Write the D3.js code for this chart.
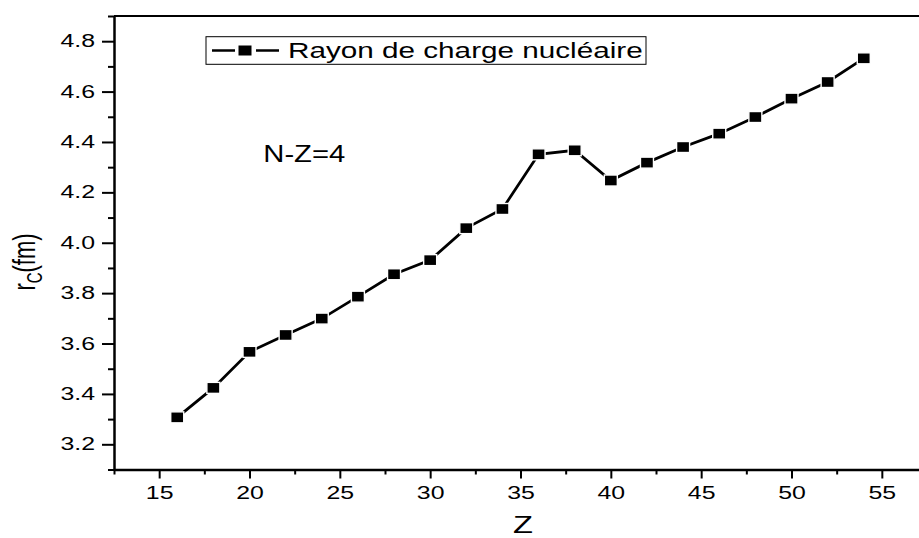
<!DOCTYPE html>
<html>
<head>
<meta charset="utf-8">
<script src="https://cdn.jsdelivr.net/npm/d3@7"></script>
<style>
  body { margin: 0; background: #fff; }
  svg { display: block; font-family: "Liberation Sans", Arial, sans-serif; }
</style>
</head>
<body>
<div id="chart"></div>
<script>
// Data
const zValues = [16, 18, 20, 22, 24, 26, 28, 30, 32, 34, 36, 38, 40, 42, 44, 46, 48, 50, 52, 54];
const rcValues = [3.307, 3.424, 3.567, 3.634, 3.699, 3.786, 3.875, 3.931, 4.058, 4.134,
                  4.351, 4.367, 4.247, 4.318, 4.380, 4.433, 4.499, 4.572, 4.638, 4.732];
const xMajorTicks = [15, 20, 25, 30, 35, 40, 45, 50, 55];
const xMinorTicks = [12.5, 17.5, 22.5, 27.5, 32.5, 37.5, 42.5, 47.5, 52.5];
const yMajorTicks = [3.2, 3.4, 3.6, 3.8, 4.0, 4.2, 4.4, 4.6, 4.8];
const yMinorTicks = [3.1, 3.3, 3.5, 3.7, 3.9, 4.1, 4.3, 4.5, 4.7, 4.9];
const seriesName = 'Rayon de charge nucléaire';
const annotation = 'N-Z=4';

const svgWidth = 919;
const svgHeight = 538;
const stretch = 1.42; // the original picture is stretched sideways

const svg = d3.select('#chart')
    .append('svg')
    .attr('width', svgWidth)
    .attr('height', svgHeight);

// Scales
const x = d3.scaleLinear().domain([12.5, 57.5]).range([114, 927]);
const y = d3.scaleLinear().domain([3.1, 4.9]).range([469.5, 16]);

// widen glyphs of a text selection to match the stretched original
function widen(sel, k) {
    sel.each(function () {
        const w = this.getComputedTextLength();
        d3.select(this).attr('textLength', w * k).attr('lengthAdjust', 'spacingAndGlyphs');
    });
}

// Top frame line
svg.append('line')
    .attr('x1', x(12.5)).attr('x2', x(57.5))
    .attr('y1', y(4.9)).attr('y2', y(4.9))
    .attr('stroke', '#000')
    .attr('stroke-width', 2);

// Minor ticks
svg.append('g')
    .attr('transform', `translate(0,${y(3.1)})`)
    .call(d3.axisBottom(x).tickValues(xMinorTicks).tickSize(5).tickFormat(''))
    .call(g => g.select('.domain').remove())
    .selectAll('line').attr('stroke-width', 2);

svg.append('g')
    .attr('transform', `translate(${x(12.5)},0)`)
    .call(d3.axisLeft(y).tickValues(yMinorTicks).tickSize(6).tickFormat(''))
    .call(g => g.select('.domain').remove())
    .selectAll('line').attr('stroke-width', 2);

// Major axes
const xAxis = svg.append('g')
    .attr('transform', `translate(0,${y(3.1)})`)
    .call(d3.axisBottom(x).tickValues(xMajorTicks).tickSize(9).tickSizeOuter(0).tickPadding(8).tickFormat(d3.format('d')));
xAxis.select('.domain').attr('stroke-width', 2.5);
xAxis.selectAll('line').attr('stroke-width', 2);
xAxis.selectAll('text')
    .style('font-size', '17.5px')
    .style('font-family', '"Liberation Sans", Arial, sans-serif')
    .attr('fill', '#000')
    .call(widen, stretch);

const yAxis = svg.append('g')
    .attr('transform', `translate(${x(12.5)},0)`)
    .call(d3.axisLeft(y).tickValues(yMajorTicks).tickSize(12).tickSizeOuter(0).tickPadding(7).tickFormat(d3.format('.1f')));
yAxis.select('.domain').attr('stroke-width', 2.5);
yAxis.selectAll('line').attr('stroke-width', 2);
yAxis.selectAll('text')
    .style('font-size', '17.5px')
    .style('font-family', '"Liberation Sans", Arial, sans-serif')
    .attr('fill', '#000')
    .call(widen, stretch);

// Axis labels
svg.append('text')
    .attr('x', 523)
    .attr('y', 533)
    .attr('text-anchor', 'middle')
    .style('font-size', '23px')
    .text('Z')
    .call(widen, stretch);

const yLabel = svg.append('text')
    .attr('transform', `translate(35,262) scale(${stretch},1) rotate(-90)`)
    .attr('text-anchor', 'middle')
    .style('font-size', '22px');
yLabel.append('tspan').text('r');
yLabel.append('tspan').attr('dy', 5).style('font-size', '15px').text('C');
yLabel.append('tspan').attr('dy', -5).text('(fm)');

// Series
const points = zValues.map((z, i) => ({ z: z, r: rcValues[i] }));

svg.append('path')
    .datum(points)
    .attr('fill', 'none')
    .attr('stroke', '#000')
    .attr('stroke-width', 2.8)
    .attr('d', d3.line().x(d => x(d.z)).y(d => y(d.r)));

svg.selectAll('rect.marker')
    .data(points)
    .enter()
    .append('rect')
    .attr('class', 'marker')
    .attr('x', d => x(d.z) - 6.5)
    .attr('y', d => y(d.r) - 5.5)
    .attr('width', 13)
    .attr('height', 11)
    .attr('fill', '#000')
    .attr('stroke', '#fff')
    .attr('stroke-width', 1.4);

// Legend
const legend = svg.append('g');
legend.append('rect')
    .attr('x', 206).attr('y', 36.7)
    .attr('width', 440).attr('height', 27.6)
    .attr('fill', '#fff')
    .attr('stroke', '#000')
    .attr('stroke-width', 1);
legend.append('line')
    .attr('x1', 212).attr('x2', 235)
    .attr('y1', 50.5).attr('y2', 50.5)
    .attr('stroke', '#000')
    .attr('stroke-width', 2.5);
legend.append('line')
    .attr('x1', 256).attr('x2', 279)
    .attr('y1', 50.5).attr('y2', 50.5)
    .attr('stroke', '#000')
    .attr('stroke-width', 2.5);
legend.append('rect')
    .attr('x', 238.5).attr('y', 45.5)
    .attr('width', 13).attr('height', 10)
    .attr('fill', '#000');
legend.append('text')
    .attr('x', 288)
    .attr('y', 58.3)
    .style('font-size', '22px')
    .attr('textLength', 354.7)
    .attr('lengthAdjust', 'spacingAndGlyphs')
    .text(seriesName);

// Annotation
svg.append('text')
    .attr('x', 263.3)
    .attr('y', 161.7)
    .style('font-size', '24px')
    .attr('textLength', 82)
    .attr('lengthAdjust', 'spacingAndGlyphs')
    .text(annotation);
</script>
</body>
</html>
